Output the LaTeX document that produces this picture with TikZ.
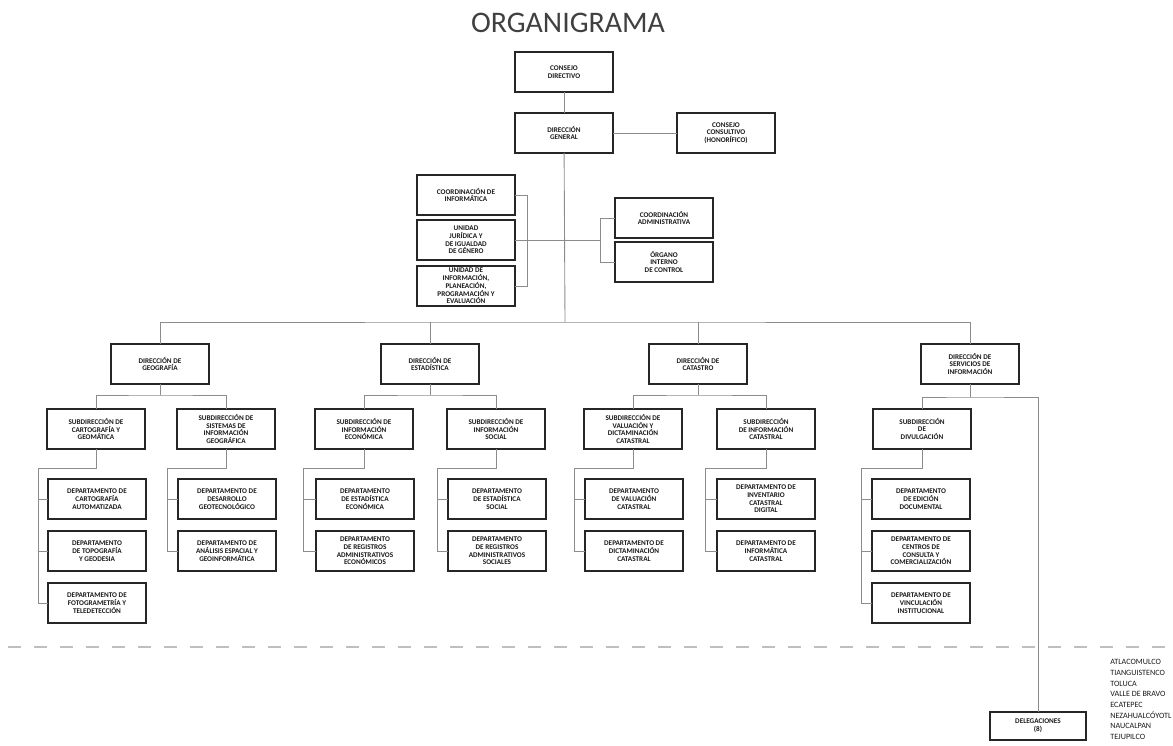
\documentclass[tikz,border=0pt]{standalone}
\usepackage{fontspec}
\setmainfont{Carlito}
\usepackage{tikz}
\usepackage{tkz-graph}
\usetikzlibrary{arrows}
\newcommand{\letra}{\fontsize{4.1}{4.4}\selectfont\bfseries}

\begin{document}
\begin{tikzpicture}[x=0.2mm,y=-0.2mm]
\useasboundingbox (0,0) rectangle (1173,746);
\GraphInit[vstyle=Normal]
\SetVertexNormal[Shape = rectangle, LineWidth = 0.9pt]
\tikzset{VertexStyle/.append style={fill=white, draw=black!85, text=black!90, inner sep=0pt, minimum width=19.6mm, minimum height=8mm, align=center, font=\letra}}
\tikzset{EdgeStyle/.style={-, draw=black!45, line width=0.5pt}}
\node[font=\fontsize{17}{20}\selectfont, text=black!75] (titulo) at (568,23) {ORGANIGRAMA};
\Vertex[x=564,y=72,L={CONSEJO\\DIRECTIVO}]{cd}
\Vertex[x=564,y=133,L={DIRECCIÓN\\GENERAL}]{dg}
\Vertex[x=726,y=133,L={CONSEJO\\CONSULTIVO\\(HONORÍFICO)}]{cc}
\Vertex[x=466,y=195,L={COORDINACIÓN DE\\INFORMÁTICA}]{ci}
\Vertex[x=466,y=240,L={UNIDAD\\JURÍDICA Y\\DE IGUALDAD\\DE GÉNERO}]{uj}
\Vertex[x=466,y=286,L={UNIDAD DE\\INFORMACIÓN,\\PLANEACIÓN,\\PROGRAMACIÓN Y\\EVALUACIÓN}]{ui}
\Vertex[x=664,y=218,L={COORDINACIÓN\\ADMINISTRATIVA}]{ca}
\Vertex[x=664,y=262,L={ÓRGANO\\INTERNO\\DE CONTROL}]{oic}
\Vertex[x=160,y=364,L={DIRECCIÓN DE\\GEOGRAFÍA}]{geo}
\Vertex[x=430,y=364,L={DIRECCIÓN DE\\ESTADÍSTICA}]{est}
\Vertex[x=698,y=364,L={DIRECCIÓN DE\\CATASTRO}]{cat}
\Vertex[x=970,y=364,L={DIRECCIÓN DE\\SERVICIOS DE\\INFORMACIÓN}]{serv}
\Vertex[x=96,y=429,L={SUBDIRECCIÓN DE\\CARTOGRAFÍA Y\\GEOMÁTICA}]{scar}
\Vertex[x=226,y=429,L={SUBDIRECCIÓN DE\\SISTEMAS DE\\INFORMACIÓN\\GEOGRÁFICA}]{ssig}
\Vertex[x=364,y=429,L={SUBDIRECCIÓN DE\\INFORMACIÓN\\ECONÓMICA}]{seco}
\Vertex[x=496,y=429,L={SUBDIRECCIÓN DE\\INFORMACIÓN\\SOCIAL}]{ssoc}
\Vertex[x=633,y=429,L={SUBDIRECCIÓN DE\\VALUACIÓN Y\\DICTAMINACIÓN\\CATASTRAL}]{sval}
\Vertex[x=766,y=429,L={SUBDIRECCIÓN\\DE INFORMACIÓN\\CATASTRAL}]{sinc}
\Vertex[x=922,y=429,L={SUBDIRECCIÓN\\DE\\DIVULGACIÓN}]{sdiv}
\Vertex[x=97,y=499,L={DEPARTAMENTO DE\\CARTOGRAFÍA\\AUTOMATIZADA}]{dcar1}
\Vertex[x=97,y=551,L={DEPARTAMENTO\\DE TOPOGRAFÍA\\Y GEODESIA}]{dcar2}
\Vertex[x=97,y=603,L={DEPARTAMENTO DE\\FOTOGRAMETRÍA Y\\TELEDETECCIÓN}]{dcar3}
\Vertex[x=227,y=499,L={DEPARTAMENTO DE\\DESARROLLO\\GEOTECNOLÓGICO}]{dsig1}
\Vertex[x=227,y=551,L={DEPARTAMENTO DE\\ANÁLISIS ESPACIAL Y\\GEOINFORMÁTICA}]{dsig2}
\Vertex[x=365,y=499,L={DEPARTAMENTO\\DE ESTADÍSTICA\\ECONÓMICA}]{deco1}
\Vertex[x=365,y=551,L={DEPARTAMENTO\\DE REGISTROS\\ADMINISTRATIVOS\\ECONÓMICOS}]{deco2}
\Vertex[x=497,y=499,L={DEPARTAMENTO\\DE ESTADÍSTICA\\SOCIAL}]{dsoc1}
\Vertex[x=497,y=551,L={DEPARTAMENTO\\DE REGISTROS\\ADMINISTRATIVOS\\SOCIALES}]{dsoc2}
\Vertex[x=634,y=499,L={DEPARTAMENTO\\DE VALUACIÓN\\CATASTRAL}]{dval1}
\Vertex[x=634,y=551,L={DEPARTAMENTO DE\\DICTAMINACIÓN\\CATASTRAL}]{dval2}
\Vertex[x=766,y=499,L={DEPARTAMENTO DE\\INVENTARIO\\CATASTRAL\\DIGITAL}]{dinc1}
\Vertex[x=766,y=551,L={DEPARTAMENTO DE\\INFORMÁTICA\\CATASTRAL}]{dinc2}
\Vertex[x=921,y=499,L={DEPARTAMENTO\\DE EDICIÓN\\DOCUMENTAL}]{ddiv1}
\Vertex[x=921,y=551,L={DEPARTAMENTO DE\\CENTROS DE\\CONSULTA Y\\COMERCIALIZACIÓN}]{ddiv2}
\Vertex[x=921,y=603,L={DEPARTAMENTO DE\\VINCULACIÓN\\INSTITUCIONAL}]{ddiv3}
\tikzset{VertexStyle/.append style={minimum width=19.2mm, minimum height=5.6mm}}
\Vertex[x=1038,y=726,L={DELEGACIONES\\(8)}]{deleg}
\foreach \n [count=\i] in {ATLACOMULCO,TIANGUISTENCO,TOLUCA,VALLE DE BRAVO,ECATEPEC,NEZAHUALCÓYOTL,NAUCALPAN,TEJUPILCO}
  \node[anchor=base west, inner sep=0pt, font=\fontsize{4.6}{5}\selectfont, text=black!90] (del\i) at (1110,654+10.7*\i) {\n};
\draw[black!25, line width=0.6pt, dash pattern=on 2.6mm off 2.6mm] (8,647) -- (1173,647);
\Edge(cd)(dg)
\Edge(dg)(cc)
\coordinate (bus) at (565,322);
\coordinate (bizq) at (527,240);
\coordinate (bder) at (600,240);
\draw[EdgeStyle] (dg) -- (bus);
\draw[EdgeStyle] (ci) -| (bizq);
\draw[EdgeStyle] (ui) -| (bizq);
\draw[EdgeStyle] (uj) -- (bder);
\draw[EdgeStyle] (ca) -| (bder);
\draw[EdgeStyle] (oic) -| (bder);
\draw[EdgeStyle] (geo) |- (bus) -| (serv);
\draw[EdgeStyle] (est) -- (est |- bus);
\draw[EdgeStyle] (cat) -- (cat |- bus);
\coordinate (bgeo) at (160,395);
\coordinate (best) at (430,395);
\coordinate (bcat) at (698,395);
\coordinate (bser) at (970,397);
\draw[EdgeStyle] (geo) -- (bgeo);
\draw[EdgeStyle] (scar) |- (bgeo) -| (ssig);
\draw[EdgeStyle] (est) -- (best);
\draw[EdgeStyle] (seco) |- (best) -| (ssoc);
\draw[EdgeStyle] (cat) -- (bcat);
\draw[EdgeStyle] (sval) |- (bcat) -| (sinc);
\draw[EdgeStyle] (serv) -- (bser);
\draw[EdgeStyle] (sdiv) |- (bser) -| (deleg);
\coordinate (tcar) at (38,468);
\coordinate (tsig) at (167,468);
\coordinate (teco) at (303,468);
\coordinate (tsoc) at (437,468);
\coordinate (tval) at (574,468);
\coordinate (tinc) at (705,468);
\coordinate (tdiv) at (861,468);
\draw[EdgeStyle] (scar) |- (tcar) |- (dcar3);
\draw[EdgeStyle] (ssig) |- (tsig) |- (dsig2);
\draw[EdgeStyle] (seco) |- (teco) |- (deco2);
\draw[EdgeStyle] (ssoc) |- (tsoc) |- (dsoc2);
\draw[EdgeStyle] (sval) |- (tval) |- (dval2);
\draw[EdgeStyle] (sinc) |- (tinc) |- (dinc2);
\draw[EdgeStyle] (sdiv) |- (tdiv) |- (ddiv3);
\foreach \d in {dcar1,dcar2} \draw[EdgeStyle] (tcar) |- (\d);
\draw[EdgeStyle] (tsig) |- (dsig1);
\draw[EdgeStyle] (teco) |- (deco1);
\draw[EdgeStyle] (tsoc) |- (dsoc1);
\draw[EdgeStyle] (tval) |- (dval1);
\draw[EdgeStyle] (tinc) |- (dinc1);
\foreach \d in {ddiv1,ddiv2} \draw[EdgeStyle] (tdiv) |- (\d);
\end{tikzpicture}
\end{document}
